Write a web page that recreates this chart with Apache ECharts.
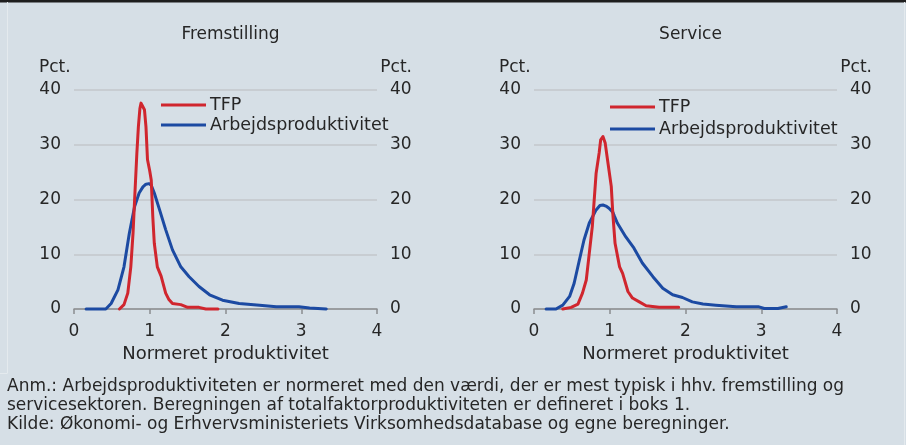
<!DOCTYPE html>
<html><head><meta charset="utf-8">
<script src="https://cdn.jsdelivr.net/npm/echarts@6/dist/echarts.min.js"></script>
<style>html,body{margin:0;padding:0;background:#d6dfe6;}#c{width:906px;height:445px;}</style>
</head><body><div id="c"></div>
<script>
// ---- data ----
const panelTitles = ['Fremstilling', 'Service'];
const seriesNames = ['TFP', 'Arbejdsproduktivitet'];
const xTicks = [0, 1, 2, 3, 4];
const yTicks = [0, 10, 20, 30, 40];
const xAxisName = 'Normeret produktivitet';
const yUnit = 'Pct.';
const footnotes = [
  'Anm.: Arbejdsproduktiviteten er normeret med den værdi, der er mest typisk i hhv. fremstilling og',
  'servicesektoren. Beregningen af totalfaktorproduktiviteten er defineret i boks 1.',
  'Kilde: Økonomi- og Erhvervsministeriets Virksomhedsdatabase og egne beregninger.'
];
// Fremstilling
const fremTFP = [[0.60,0],[0.66,0.8],[0.71,2.9],[0.75,7.7],[0.78,14.0],[0.80,19.9],[0.83,28.5],[0.85,33.3],[0.87,36.6],[0.885,37.6],[0.906,37.9],[0.93,36.4],[0.95,33.3],[0.97,27.3],[1.00,25.2],[1.02,23.5],[1.04,16.9],[1.06,12.0],[1.10,7.7],[1.15,6.0],[1.21,2.9],[1.25,1.8],[1.30,1.0],[1.41,0.8],[1.50,0.3],[1.65,0.3],[1.74,0],[1.90,0]];
const fremArb = [[0.16,0],[0.42,0],[0.49,1.0],[0.58,3.5],[0.66,7.7],[0.73,13.8],[0.80,18.7],[0.86,21.2],[0.91,22.3],[0.95,22.8],[0.99,22.9],[1.02,22.6],[1.06,21.2],[1.13,18.1],[1.21,14.5],[1.30,10.8],[1.41,7.7],[1.52,5.9],[1.65,4.1],[1.79,2.6],[1.96,1.6],[2.18,1.0],[2.45,0.7],[2.67,0.4],[2.97,0.4],[3.11,0.2],[3.33,0]];
// Service
const servTFP = [[0.38,0],[0.49,0.3],[0.58,0.9],[0.64,2.9],[0.69,5.3],[0.73,10.2],[0.77,15.1],[0.82,24.8],[0.86,28.5],[0.88,30.9],[0.91,31.5],[0.94,30.3],[0.97,27.3],[1.02,22.4],[1.04,17.5],[1.07,12.0],[1.13,7.7],[1.17,6.5],[1.24,3.2],[1.30,2.0],[1.39,1.3],[1.48,0.6],[1.65,0.3],[1.91,0.3]];
const servArb = [[0.16,0],[0.29,0],[0.38,0.7],[0.47,2.3],[0.53,4.7],[0.60,9.0],[0.66,12.6],[0.73,15.7],[0.82,18.1],[0.87,18.9],[0.91,19.0],[0.95,18.8],[0.99,18.4],[1.04,17.7],[1.06,17.0],[1.10,15.7],[1.21,13.2],[1.32,11.1],[1.43,8.4],[1.57,5.9],[1.70,3.8],[1.83,2.6],[1.96,2.1],[2.09,1.3],[2.23,0.9],[2.40,0.7],[2.67,0.4],[2.97,0.4],[3.04,0.1],[3.22,0.1],[3.33,0.4]];
const panelData = [[fremTFP, fremArb], [servTFP, servArb]];

// ---- styles ----
const RED = '#d0262e', BLUE = '#1c4aa2', TXT = '#262626', GRID = '#c3c7cb', AX = '#8a8d90';
const FONT = '"DejaVu Sans", Verdana, sans-serif';
const grids = [{left:74, right:529, top:90, bottom:136}, {left:534, right:69, top:90, bottom:136}];
const legendPos = [{left:161, top:96, gap:2}, {left:610, top:98, gap:4}];

const chart = echarts.init(document.getElementById('c'), null, {renderer:'canvas'});
const xAxis = [], yAxis = [], series = [], legend = [], title = [], graphic = [];
grids.forEach((g, i) => {
  xAxis.push({type:'value', gridIndex:i, min:xTicks[0], max:xTicks[xTicks.length-1], interval:1,
    name:xAxisName, nameLocation:'middle', nameGap:36,
    nameTextStyle:{color:TXT, fontSize:18, fontFamily:FONT},
    axisLine:{show:true, lineStyle:{color:AX, width:1.5}},
    axisTick:{show:true, length:5, lineStyle:{color:AX, width:1.5}},
    axisLabel:{color:TXT, fontSize:17, fontFamily:FONT, margin:14},
    splitLine:{show:false}});
  ['left','right'].forEach((pos) => {
    yAxis.push({type:'value', gridIndex:i, position:pos, min:yTicks[0], max:yTicks[yTicks.length-1], interval:10,
      axisLine:{show:false}, axisTick:{show:false},
      axisLabel:{color:TXT, fontSize:17, fontFamily:FONT, margin:13},
      splitLine:{show: pos==='left', lineStyle:{color:GRID, width:1.5}}});
  });
  const cx = g.left + (906 - g.left - g.right) / 2;
  title.push({text:panelTitles[i], left:cx, top:21, textAlign:'center',
    textStyle:{color:TXT, fontSize:17, fontWeight:'normal', fontFamily:FONT}});
  legend.push({data:seriesNames, orient:'vertical', left:legendPos[i].left, top:legendPos[i].top,
    padding:0, itemGap:legendPos[i].gap, itemWidth:45, itemHeight:3, icon:'rect',
    textStyle:{color:TXT, fontSize:17.5, fontFamily:FONT, lineHeight:18, padding:[0,0,0,-1]},
    selectedMode:false});
  panelData[i].forEach((d, k) => {
    series.push({name:seriesNames[k], type:'line', xAxisIndex:i, yAxisIndex:i*2, data:d,
      showSymbol:false, smooth:false, clip:false,
      lineStyle:{color:k===0?RED:BLUE, width:3, join:'round', cap:'round'}, itemStyle:{color:k===0?RED:BLUE}, z:k===0?3:2});
  });
  // unit labels
  const xr = 906 - g.right;
  graphic.push({type:'text', left:g.left-35, top:59, style:{text:yUnit, fill:TXT, font:'17px ' + FONT}});
  graphic.push({type:'text', right:906 - (xr + 35), top:59, style:{text:yUnit, fill:TXT, font:'17px ' + FONT, textAlign:'right'}});
});
// frame details
graphic.push({type:'rect', shape:{x:0, y:0, width:906, height:2.5}, style:{fill:'#1e1e1e'}, silent:true});
graphic.push({type:'line', shape:{x1:7.5, y1:2, x2:7.5, y2:373}, style:{stroke:'#e4eaee', lineWidth:1}, silent:true});
graphic.push({type:'line', shape:{x1:0, y1:373.5, x2:7.5, y2:373.5}, style:{stroke:'#e4eaee', lineWidth:1}, silent:true});
graphic.push({type:'line', shape:{x1:904.5, y1:2, x2:904.5, y2:445}, style:{stroke:'#e4eaee', lineWidth:1}, silent:true});
footnotes.forEach((t, j) => {
  graphic.push({type:'text', left:7, top:378 + j*19, style:{text:t, fill:TXT, font:'17px ' + FONT}});
});

chart.setOption({
  backgroundColor:'#d6dfe6', animation:false,
  title, legend, grid:grids, xAxis, yAxis, series, graphic
});
</script></body></html>
